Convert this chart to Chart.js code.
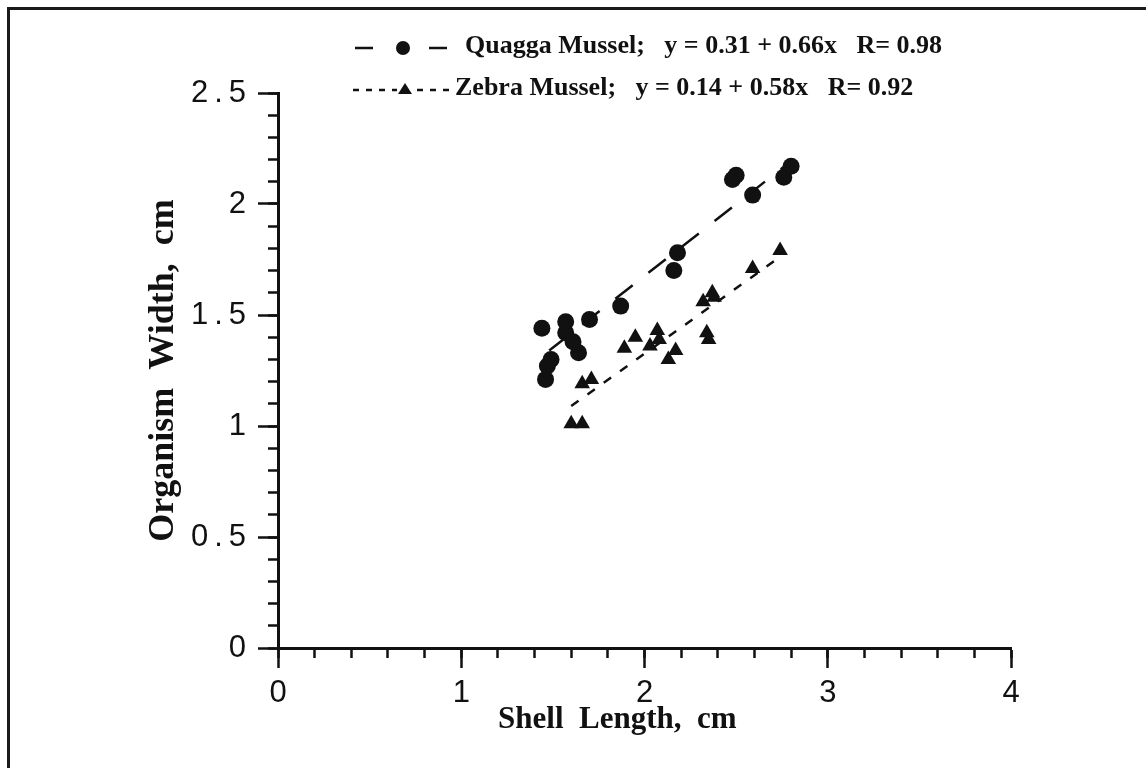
<!DOCTYPE html>
<html lang="en">
<head>
  <meta charset="UTF-8"/>
  <title>Shell Length vs Organism Width</title>
  <script src="https://cdn.jsdelivr.net/npm/chart.js"></script>
  <style>
    body {
      margin: 0;
      padding: 0;
      background: #fff;
      width: 1146px;
      height: 768px;
      overflow: hidden;
    }
    #chart {
      position: absolute;
      left: 0;
      top: 0;
    }
    .frame {
      position: absolute;
      left: 7px;
      top: 7px;
      right: 0;
      bottom: 0;
      border-top: 3px solid #1b1b1b;
      border-left: 3px solid #1b1b1b;
      pointer-events: none;
    }
  </style>
</head>
<body>

<canvas id="chart" width="1146" height="768"></canvas>
<div class="frame"></div>

<script>
  // points
  const quaggaX = [1.44, 1.46, 1.47, 1.49, 1.57, 1.57, 1.61, 1.64, 1.70, 1.87, 2.16, 2.18, 2.48, 2.50, 2.59, 2.76, 2.80];
  const quaggaY = [1.44, 1.21, 1.27, 1.30, 1.47, 1.42, 1.38, 1.33, 1.48, 1.54, 1.70, 1.78, 2.11, 2.13, 2.04, 2.12, 2.17];

  const zebraX = [1.60, 1.66, 1.66, 1.71, 1.89, 1.95, 2.03, 2.07, 2.08, 2.13, 2.17, 2.32, 2.34, 2.35, 2.37, 2.38, 2.59, 2.74];
  const zebraY = [1.01, 1.01, 1.19, 1.21, 1.35, 1.40, 1.36, 1.43, 1.39, 1.30, 1.34, 1.56, 1.42, 1.39, 1.60, 1.58, 1.71, 1.79];

  // fitted lines as drawn (end points)
  const quaggaFitX = [1.48, 2.78];
  const quaggaFitY = [1.34, 2.18];
  const zebraFitX = [1.60, 2.72];
  const zebraFitY = [1.09, 1.75];

  const legendLabels = [
    "Quagga Mussel;   y = 0.31 + 0.66x   R= 0.98",
    "Zebra Mussel;   y = 0.14 + 0.58x   R= 0.92"
  ];

  // trailing blanks nudge the centred title a bit left, like the scan
  const xTitle = "Shell  Length,  cm       ";
  const yTitle = "Organism  Width,  cm";

  const ink = "#111";

  function toPoints(xs, ys) {
    return xs.map((x, i) => ({ x: x, y: ys[i] }));
  }

  // hand-drawn style legend at the top
  const topLegend = {
    id: "topLegend",
    afterDraw(chart) {
      const ctx = chart.ctx;
      ctx.save();
      ctx.strokeStyle = ink;
      ctx.fillStyle = ink;
      ctx.lineWidth = 2.5;

      // row 1: long dash, circle, long dash
      let y = 48;
      ctx.beginPath();
      ctx.moveTo(355, y); ctx.lineTo(373, y);
      ctx.moveTo(429, y); ctx.lineTo(447, y);
      ctx.stroke();
      ctx.beginPath();
      ctx.arc(403, y, 7, 0, Math.PI * 2);
      ctx.fill();

      // row 2: short dashes with triangle
      y = 90;
      ctx.setLineDash([6, 7]);
      ctx.beginPath();
      ctx.moveTo(353, y); ctx.lineTo(397, y);
      ctx.moveTo(417, y); ctx.lineTo(449, y);
      ctx.stroke();
      ctx.setLineDash([]);
      ctx.beginPath();
      ctx.moveTo(405, y - 7);
      ctx.lineTo(412, y + 4);
      ctx.lineTo(398, y + 4);
      ctx.closePath();
      ctx.fill();

      ctx.font = "bold 26px 'Liberation Serif'";
      ctx.textBaseline = "middle";
      ctx.textAlign = "left";
      ctx.fillText(legendLabels[0], 465, 46);
      ctx.fillText(legendLabels[1], 455, 88);
      ctx.restore();
    }
  };

  // the scan's y labels are loosely spaced
  function spaceLabels(s) {
    if (s._spaced) return;
    s._spaced = true;
    const orig = s.drawLabels;
    s.drawLabels = function (area) {
      const ctx = this.ctx;
      ctx.save();
      if ("letterSpacing" in ctx) ctx.letterSpacing = "6px";
      orig.call(this, area);
      ctx.restore();
    };
  }

  const fmt = (v) => String(Number(v.toFixed(2)));

  const yTickFont = { family: "'Liberation Sans', Arial, sans-serif", size: 31 };
  const xTickFont = { family: "'Liberation Sans', Arial, sans-serif", size: 31 };
  const xTitleFont = { family: "'Liberation Serif', serif", size: 31, weight: "bold", lineHeight: 1 };
  const yTitleFont = { family: "'Liberation Serif', serif", size: 36, weight: "bold", lineHeight: 1 };

  new Chart(document.getElementById("chart"), {
    type: "scatter",
    data: {
      datasets: [
        {
          label: "Quagga Mussel",
          data: toPoints(quaggaX, quaggaY),
          pointStyle: "circle",
          pointRadius: 8.5,
          backgroundColor: ink,
          borderColor: ink,
          borderWidth: 0,
          order: 0
        },
        {
          label: "Zebra Mussel",
          data: toPoints(zebraX, zebraY),
          pointStyle: "triangle",
          pointRadius: 9,
          backgroundColor: ink,
          borderColor: ink,
          borderWidth: 0,
          order: 0
        },
        {
          label: "Quagga fit",
          data: toPoints(quaggaFitX, quaggaFitY),
          showLine: true,
          pointRadius: 0,
          borderColor: ink,
          borderWidth: 2.5,
          borderDash: [22, 20],
          order: 1
        },
        {
          label: "Zebra fit",
          data: toPoints(zebraFitX, zebraFitY),
          showLine: true,
          pointRadius: 0,
          borderColor: ink,
          borderWidth: 2.5,
          borderDash: [9, 11],
          order: 1
        }
      ]
    },
    options: {
      responsive: false,
      animation: false,
      devicePixelRatio: 1,
      layout: { padding: { left: 0, top: 93, right: 135, bottom: 0 } },
      plugins: {
        legend: { display: false },
        tooltip: { enabled: false }
      },
      scales: {
        x: {
          type: "linear",
          position: "bottom",
          min: 0,
          max: 4,
          afterFit: (s) => { s.height = 120; },
          border: { display: true, color: ink, width: 3 },
          grid: { drawOnChartArea: false, drawTicks: true, tickLength: 20, tickWidth: 2.5, tickColor: ink },
          ticks: { stepSize: 1, color: ink, font: xTickFont, padding: 7, maxRotation: 0 },
          title: { display: true, text: xTitle, color: ink, font: xTitleFont, padding: { top: 0, bottom: 33 } }
        },
        xMinor: {
          type: "linear",
          position: "bottom",
          weight: -1,
          min: 0,
          max: 4,
          afterFit: (s) => { s.height = 0; },
          border: { display: true, color: ink, width: 3 },
          grid: { drawOnChartArea: false, drawTicks: true, tickLength: 10, tickWidth: 2.5, tickColor: ink },
          ticks: { stepSize: 0.2, display: false }
        },
        y: {
          type: "linear",
          position: "left",
          min: 0,
          max: 2.5,
          afterFit: (s) => { s.width = 278; spaceLabels(s); },
          border: { display: true, color: ink, width: 3 },
          grid: { drawOnChartArea: false, drawTicks: true, tickLength: 20, tickWidth: 2.5, tickColor: ink },
          ticks: { stepSize: 0.5, color: ink, font: yTickFont, padding: 6, callback: fmt },
          title: { display: true, text: yTitle, color: ink, font: yTitleFont, padding: { top: 146, bottom: 0 } }
        },
        yMinor: {
          type: "linear",
          position: "left",
          weight: -1,
          min: 0,
          max: 2.5,
          afterFit: (s) => { s.width = 0; },
          border: { display: true, color: ink, width: 3 },
          grid: { drawOnChartArea: false, drawTicks: true, tickLength: 10, tickWidth: 2.5, tickColor: ink },
          ticks: { stepSize: 0.1, display: false }
        }
      }
    },
    plugins: [topLegend]
  });
</script>

</body>
</html>
